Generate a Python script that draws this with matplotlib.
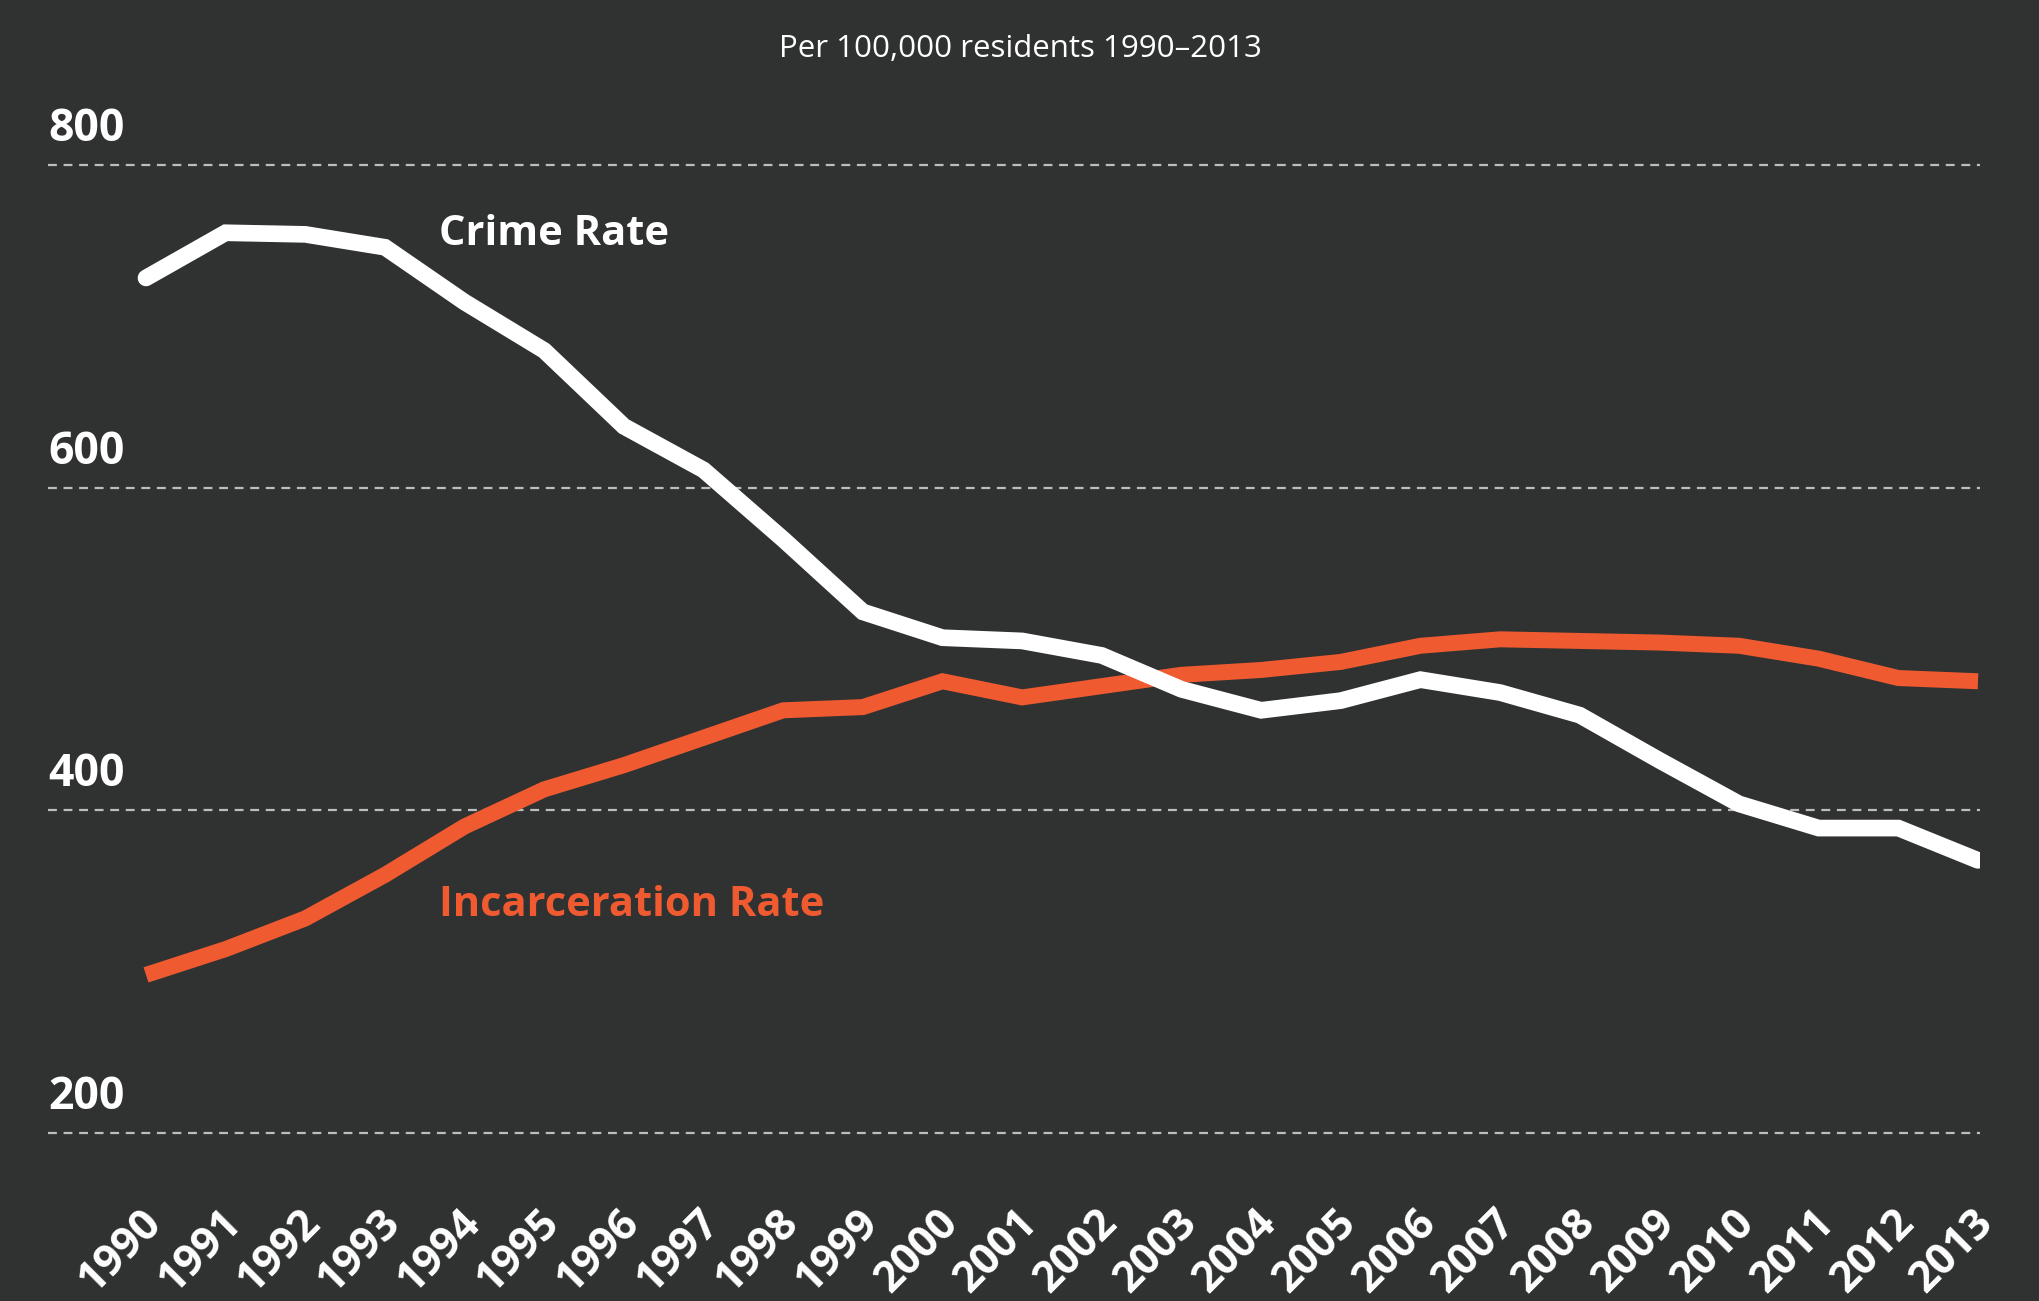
import matplotlib.pyplot as plt
from matplotlib import transforms

# data (per 100,000 residents)
years = list(range(1990, 2014))
crime_rate = [730, 758, 757, 749, 715, 685, 638, 611, 568, 523, 507, 505,
              496, 475, 462, 468, 481, 473, 459, 431, 404, 389, 389, 369]
incarceration_rate = [298, 314, 333, 360, 390, 413, 428, 445, 462, 464, 480, 470,
                      477, 484, 487, 492, 502, 506, 505, 504, 502, 494, 482, 480]
y_ticks = [200, 400, 600, 800]

bg = '#303231'
orange = '#F05A30'
white = '#FFFFFF'
grid_col = '#BDBDBD'

plt.rcParams['font.family'] = ['Open Sans', 'DejaVu Sans']

fig = plt.figure(figsize=(20.4, 13.01), dpi=100, facecolor=bg)

# axes placed so that 200..800 map to the reference gridline positions
W, H = 2040, 1301
x_left, x_right = 48, 1980
y_min, y_max = 185, 815
px_per_unit = (1133 - 165) / 600
top_px = 165 - (y_max - 800) * px_per_unit
bot_px = 1133 + (200 - y_min) * px_per_unit
ax = fig.add_axes([x_left / W, 1 - bot_px / H, (x_right - x_left) / W, (bot_px - top_px) / H])
ax.set_facecolor(bg)

per_year = (1978 - 146) / 23
ax.set_xlim(1990 - (146 - x_left) / per_year, 2013 + (x_right - 1978) / per_year)
ax.set_ylim(y_min, y_max)

# dashed gridlines with labels above them
for v in y_ticks:
    ax.axhline(v, color=grid_col, lw=1.6, ls=(0, (4, 3)), zorder=1)
    ax.text(0.0, v + 22, str(v), transform=transforms.blended_transform_factory(ax.transAxes, ax.transData),
            color=white, fontsize=32, fontweight='bold', ha='left', va='center')

ax.plot(years, incarceration_rate, color=orange, lw=11.5, solid_capstyle='butt',
        solid_joinstyle='miter', zorder=3)
ax.plot(years, crime_rate, color=white, lw=12, solid_capstyle='round',
        solid_joinstyle='miter', zorder=4)

ax.text(1993.68, 757, 'Crime Rate', color=white, fontsize=30, fontweight='bold',
        ha='left', va='center')
ax.text(1993.68, 341, 'Incarceration Rate', color=orange, fontsize=30, fontweight='bold',
        ha='left', va='center')

# rotated year labels
trans = transforms.blended_transform_factory(ax.transData, ax.transAxes)
for yr in years:
    ax.text(yr - 0.08, -0.043, str(yr), transform=trans, rotation=45, ha='right', va='top',
            rotation_mode='anchor', color=white, fontsize=31, fontweight='bold')

ax.set_xticks([])
ax.set_yticks([])
for s in ax.spines.values():
    s.set_visible(False)

fig.text(0.5, 1 - 49 / H, 'Per 100,000 residents 1990\u20132013', color=white,
         fontsize=22.5, ha='center', va='center')

fig.savefig('out.png', dpi=100, facecolor=bg)
